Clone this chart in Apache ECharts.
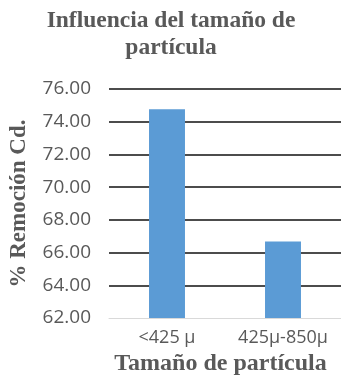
<!DOCTYPE html>
<html>
<head>
<meta charset="utf-8">
<script src="https://cdn.jsdelivr.net/npm/echarts@6/dist/echarts.min.js"></script>
<style>
  html, body { margin: 0; padding: 0; background: #fff; }
  #chart { width: 341px; height: 386px; }
</style>
</head>
<body>
<div id="chart"></div>
<script>
// Cd removal by particle size
const categories = ['<425 \u03bc', '425\u03bc-850\u03bc'];
const removal = [74.76, 66.67];
const yMin = 62;
const yMax = 76;
const yStep = 2;

const serif = '"Liberation Serif", "Times New Roman", serif';
const sans = '"Open Sans", "Liberation Sans", sans-serif';
const grey = '#595959';

const chart = echarts.init(document.getElementById('chart'), null, { renderer: 'canvas' });
chart.setOption({
  animation: false,
  backgroundColor: '#fff',
  title: {
    text: 'Influencia del tamaño de\npartícula',
    left: 166,
    textAlign: 'center',
    top: 2,
    textStyle: {
      fontFamily: serif,
      fontWeight: 'bold',
      fontSize: 23.5,
      lineHeight: 27,
      color: grey
    }
  },
  grid: { left: 108, right: 0, top: 89, bottom: 68 },
  xAxis: {
    type: 'category',
    data: categories,
    name: 'Tamaño de partícula',
    nameLocation: 'middle',
    nameGap: 29,
    nameTextStyle: {
      fontFamily: serif, fontWeight: 'bold', fontSize: 24, color: grey,
      padding: [0, 9, 0, 0]
    },
    axisLine: { lineStyle: { color: '#d9d9d9', width: 1 } },
    axisTick: { show: false },
    axisLabel: { interval: 0, fontFamily: sans, fontSize: 18, color: grey, margin: 11 }
  },
  yAxis: {
    type: 'value',
    min: yMin,
    max: yMax,
    interval: yStep,
    name: '% Remoción Cd.',
    nameLocation: 'middle',
    nameRotate: 90,
    nameGap: 78,
    nameTextStyle: { fontFamily: serif, fontWeight: 'bold', fontSize: 23, color: grey },
    axisLine: { show: false },
    axisTick: { show: false },
    axisLabel: {
      fontFamily: sans, fontSize: 19, color: grey, margin: 18,
      formatter: v => v.toFixed(2)
    },
    splitLine: { show: true, showMinLine: false, lineStyle: { color: '#111', width: 1.5 } }
  },
  series: [{
    type: 'bar',
    data: removal,
    barWidth: '31%',
    itemStyle: { color: '#5b9bd5' }
  }]
});
</script>
</body>
</html>
